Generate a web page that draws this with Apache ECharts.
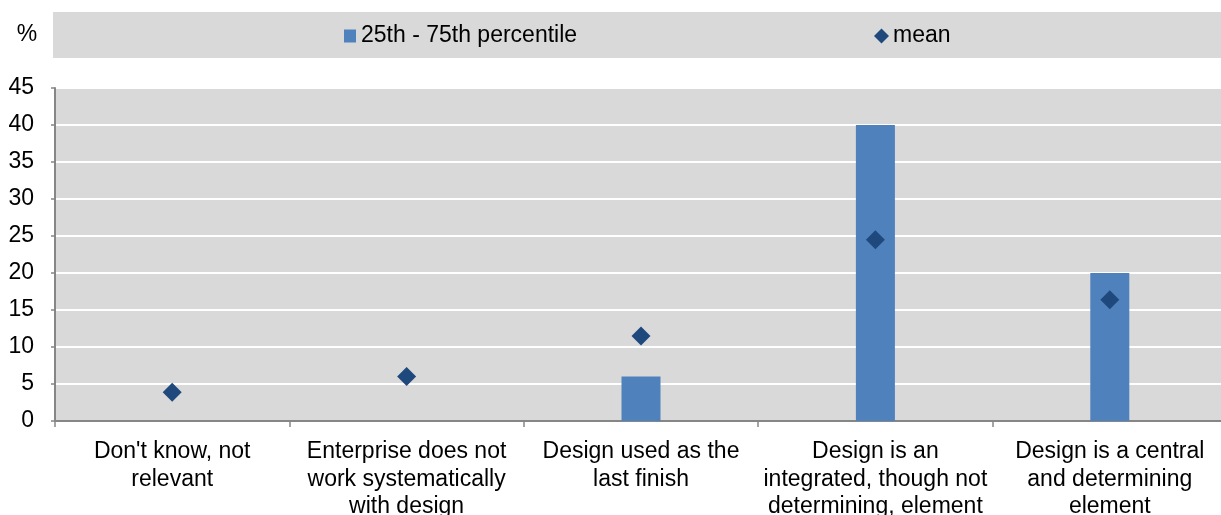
<!DOCTYPE html>
<html>
<head>
<meta charset="utf-8">
<script src="https://cdn.jsdelivr.net/npm/echarts@6/dist/echarts.min.js"></script>
<style>
html,body{margin:0;padding:0;background:#fff;}
#c{width:1221px;height:515px;}
</style>
</head>
<body>
<div id="c"></div>
<script>
var categories = [
  "Don't know, not\nrelevant",
  "Enterprise does not\nwork systematically\nwith design",
  "Design used as the\nlast finish",
  "Design is an\nintegrated, though not\ndetermining, element",
  "Design is a central\nand determining\nelement"
];
var percentile = [0, 0, 6, 40, 20];
var mean = [3.9, 6.0, 11.5, 24.5, 16.4];
var yTicks = [0, 5, 10, 15, 20, 25, 30, 35, 40, 45];
var seriesNames = ['25th - 75th percentile', 'mean'];
var unitLabel = '%';

var FONT = '"Liberation Sans", Arial, sans-serif';
var chart = echarts.init(document.getElementById('c'));
chart.setOption({
  animation: false,
  textStyle: {fontFamily: FONT},
  graphic: [
    {type: 'rect', z: -10, shape: {x: 53, y: 12, width: 1168, height: 46}, style: {fill: '#d9d9d9'}},
    {type: 'text', x: 27, y: 35, style: {text: unitLabel, fontFamily: FONT, fontSize: 23, fill: '#000', align: 'center', verticalAlign: 'middle'}}
  ],
  legend: [
    {data: [{name: seriesNames[0], icon: 'rect'}], left: 344, top: 24, padding: 0, itemWidth: 12, itemHeight: 13, itemGap: 5,
     textStyle: {fontFamily: FONT, fontSize: 23, color: '#000', lineHeight: 24, padding: [0,0,0,0]}},
    {data: [{name: seriesNames[1], icon: 'diamond', itemStyle: {opacity: 1}}], left: 874, top: 24, padding: 0, itemWidth: 15, itemHeight: 15, itemGap: 5,
     textStyle: {fontFamily: FONT, fontSize: 23, color: '#000', lineHeight: 24, padding: [0,0,0,-1]}}
  ],
  grid: {left: 55, top: 88, width: 1172, height: 333, backgroundColor: '#d9d9d9', show: true, borderWidth: 0,
         outerBoundsMode: 'none', containLabel: false},
  xAxis: {
    type: 'category',
    data: categories,
    axisLine: {lineStyle: {color: '#868686', width: 2}},
    axisTick: {show: true, length: 6, lineStyle: {color: '#868686', width: 1.5}},
    axisLabel: {fontFamily: FONT, fontSize: 23, color: '#000', lineHeight: 27.5, margin: 17, interval: 0, align: 'center'},
    splitLine: {show: false}
  },
  yAxis: {
    type: 'value',
    min: yTicks[0], max: yTicks[yTicks.length - 1], interval: yTicks[1] - yTicks[0],
    axisLine: {show: true, lineStyle: {color: '#868686', width: 2}},
    axisTick: {show: true, length: 4, lineStyle: {color: '#868686', width: 1.5}},
    axisLabel: {fontFamily: FONT, fontSize: 23, color: '#000', margin: 21},
    splitLine: {show: true, lineStyle: {color: '#ffffff', width: 2}}
  },
  series: [
    {name: seriesNames[0], type: 'bar', data: percentile, barWidth: 39, itemStyle: {color: '#4f81bd'}},
    {name: seriesNames[1], type: 'scatter', data: mean, symbol: 'diamond', symbolSize: 19, itemStyle: {color: '#1f497d', opacity: 1}, z: 5}
  ]
});
</script>
</body>
</html>
